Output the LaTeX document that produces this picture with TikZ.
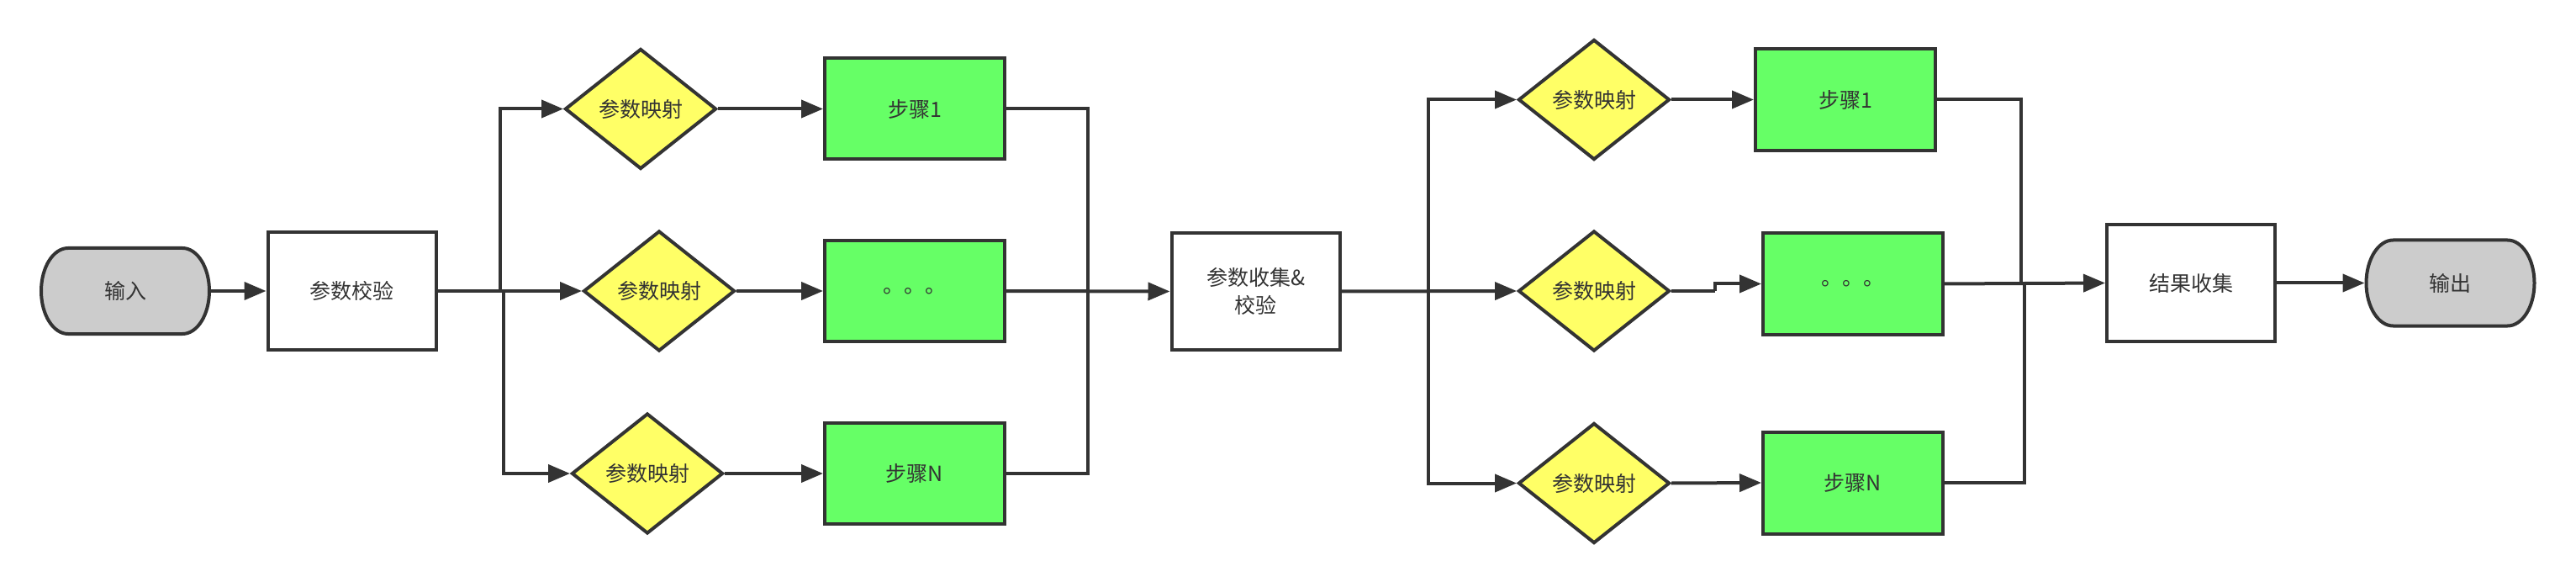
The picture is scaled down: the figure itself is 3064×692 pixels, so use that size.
\documentclass[tikz,border=0pt]{standalone}
\usepackage{fontspec}
\setmainfont{Noto Sans CJK SC}
\usetikzlibrary{arrows.meta,shapes.geometric,backgrounds,calc}
\definecolor{ink}{HTML}{333333}
\definecolor{termgray}{HTML}{CCCCCC}
\definecolor{diayel}{HTML}{FFFF66}
\definecolor{stepgreen}{HTML}{66FF66}
\newcommand{\termpath}[1]{%
  \filldraw[termshape] ($(#1)+(-68,-51)$) -- ($(#1)+(68,-51)$)
    .. controls ($(#1)+(85.67,-51)$) and ($(#1)+(100,-28.2)$) .. ($(#1)+(100,0)$)
    .. controls ($(#1)+(100,28.2)$) and ($(#1)+(85.67,51)$) .. ($(#1)+(68,51)$)
    -- ($(#1)+(-68,51)$)
    .. controls ($(#1)+(-85.67,51)$) and ($(#1)+(-100,28.2)$) .. ($(#1)+(-100,0)$)
    .. controls ($(#1)+(-100,-28.2)$) and ($(#1)+(-85.67,-51)$) .. ($(#1)+(-68,-51)$)
    -- cycle;}
\begin{document}
\begin{tikzpicture}[x=1pt,y=-1pt,
  base/.style={font=\fontsize{25}{33}\selectfont, text=ink, inner sep=0pt, align=center},
  procbox/.style={base, draw=ink, fill=white, rectangle, line width=4pt, minimum width=200pt, minimum height=139pt},
  stepbox/.style={base, draw=ink, fill=stepgreen, rectangle, line width=4pt, minimum width=214pt, minimum height=120pt},
  mapdia/.style={base, draw=ink, fill=diayel, diamond, line width=4pt, minimum width=180pt, minimum height=143pt},
  termtext/.style={base, rectangle, minimum width=200pt, minimum height=102pt, outer sep=2pt},
  termshape/.style={draw=ink, fill=termgray, line width=4pt},
  link/.style={draw=ink, line width=4pt},
  arr/.style={link, -{Triangle[length=26pt,width=21pt]}}]
\useasboundingbox (0,0) rectangle (3064,692);

% terminals
\node[termtext] (in) at (149,346) {输入};
\node[termtext] (out) at (2914.5,336.5) {输出};
\begin{scope}[on background layer]
\fill[white] (0,0) rectangle (3064,692);
\termpath{in}
\termpath{out}
\end{scope}

% process boxes
\node[procbox] (chk) at (418.5,346) {参数校验};
\node[procbox] (col) at (1493.5,346.5) {参数收集\&\\校验};
\node[procbox] (res) at (2606,336.5) {结果收集};

% first stage
\node[mapdia] (d1) at (762,129.5) {参数映射};
\node[mapdia] (d2) at (784,346) {参数映射};
\node[mapdia] (d3) at (770,563) {参数映射};
\node[stepbox] (s1) at (1088,129.5) {步骤1};
\node[stepbox] (s2) at (1088,346) {。。。};
\node[stepbox] (s3) at (1088,563) {步骤N};

% second stage
\node[mapdia] (e1) at (1896,118.5) {参数映射};
\node[mapdia] (e2) at (1896,346) {参数映射};
\node[mapdia] (e3) at (1896,574.5) {参数映射};
\node[stepbox, minimum height=121pt] (t1) at (2195,118.5) {步骤1};
\node[stepbox, minimum height=121pt] (t2) at (2204,337.5) {。。。};
\node[stepbox, minimum height=121pt] (t3) at (2204,574) {步骤N};

% junction points
\coordinate (b1) at (595,346);
\coordinate (b2) at (599,346);
\coordinate (m1) at (1294,346);
\coordinate (b3) at (1699,346);
\coordinate (j2) at (2040,346);
\coordinate (m2a) at (2404,336.5);
\coordinate (m2b) at (2408,336.5);

% connectors
\draw[arr] (in.east) -- (chk.west);
\draw[arr] (chk.east) -- (d2.west);
\draw[arr] (b1) |- (d1.west);
\draw[arr] (b2) |- (d3.west);
\draw[arr] (d1.east) -- (s1.west);
\draw[arr] (d2.east) -- (s2.west);
\draw[arr] (d3.east) -- (s3.west);
\draw[link] (s1.east) -| (m1);
\draw[link] (s3.east) -| (m1);
\draw[arr] (s2.east) -- (col.west);
\draw[arr] (col.east) -- (e2.west);
\draw[arr] (b3) |- (e1.west);
\draw[arr] (b3) |- (e3.west);
\draw[arr] (e1.east) -- (t1.west);
\draw[link] (e2.east) -- (j2);
\draw[arr] (j2) |- (t2.west);
\draw[arr] (e3.east) -- (t3.west);
\draw[link] (t1.east) -| (m2a);
\draw[link] (t3.east) -| (m2b);
\draw[arr] (t2.east) -- (res.west);
\draw[arr] (res.east) -- (out.west);
\end{tikzpicture}
\end{document}
